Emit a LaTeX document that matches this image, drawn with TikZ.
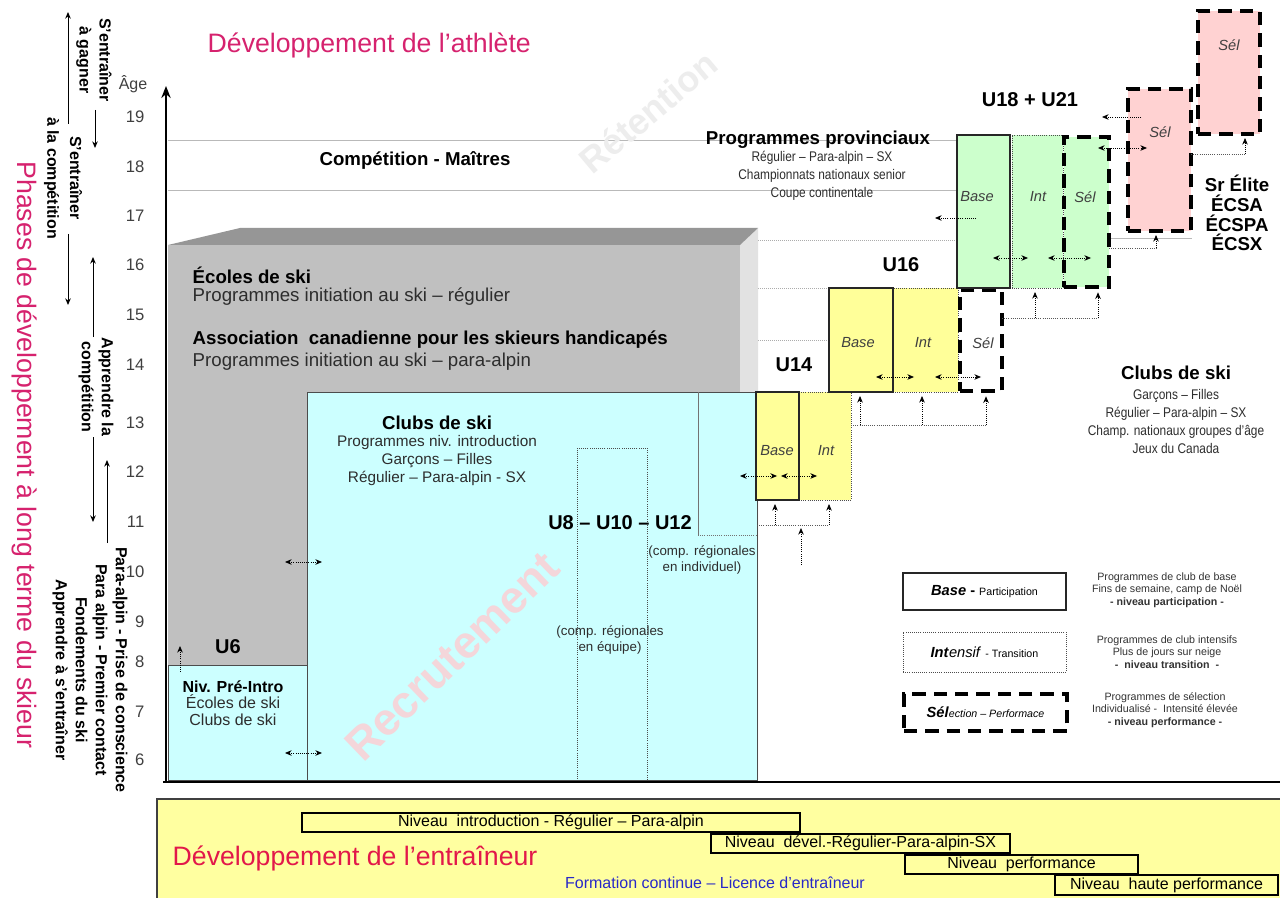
\documentclass[tikz,border=0pt]{standalone}
\usepackage{fontspec}
\setmainfont{Liberation Sans}
\newfontfamily\condfont[FakeStretch=0.85]{Liberation Sans}
\usetikzlibrary{arrows.meta,fit}
\definecolor{mag}{RGB}{214,34,110}
\definecolor{coachred}{RGB}{226,24,74}
\definecolor{blu}{RGB}{40,40,200}
\definecolor{cyanbox}{RGB}{204,255,255}
\definecolor{yelbox}{RGB}{255,255,153}
\definecolor{grnbox}{RGB}{204,255,204}
\definecolor{pinkbox}{RGB}{255,210,210}
\definecolor{grayfront}{RGB}{192,192,192}
\definecolor{graytop}{RGB}{150,150,150}
\definecolor{grayside}{RGB}{226,226,226}
\definecolor{bandyel}{RGB}{255,255,160}
\definecolor{wmpink}{RGB}{244,214,218}
\definecolor{txtgray}{RGB}{45,45,45}
\newcommand\myfs[2]{\fontsize{#1}{#2}\selectfont}
\tikzset{
  >={Stealth[length=5pt,width=4.2pt]},
  ar/.style={->, densely dotted, line width=0.6pt},
  dar/.style={<->, densely dotted, line width=0.6pt},
  conn/.style={densely dotted, line width=0.6pt, black!65},
  phar/.style={->, line width=0.7pt},
  guide/.style={gray!55, line width=0.5pt},
  guided/.style={gray!65, densely dotted, line width=0.5pt},
  solidbox/.style={draw=black!85, line width=0.8pt, inner sep=0pt, outer sep=0pt},
  dotbox/.style={draw=black!70, densely dotted, line width=0.6pt, inner sep=0pt, outer sep=0pt},
  dashbox/.style={draw=black, line width=2.6pt, dash pattern=on 10pt off 6pt, inner sep=0pt, outer sep=0pt},
  cyanfill/.style={fill=cyanbox, draw=black!70, line width=0.7pt, inner sep=0pt, outer sep=0pt},
  lbl/.style={font=\itshape\myfs{11}{13}, text=black!75},
  hd/.style={font=\bfseries\myfs{14}{16}},
  bigu/.style={font=\bfseries\myfs{15}{18}},
  subt/.style={font=\myfs{11.5}{13.5}, align=center, text=txtgray},
  condsub/.style={font=\condfont\myfs{10.5}{13.5}, align=center, text=txtgray},
  agelbl/.style={font=\myfs{12.5}{14}, text=black!75, anchor=east},
  phasetxt/.style={rotate=-90, font=\bfseries\myfs{12}{15}, align=center},
  legt/.style={font=\myfs{8}{9.5}, align=center, text=black!80},
  barbox/.style={draw=black, line width=1.9pt, inner sep=0pt, outer sep=0pt},
  bartxt/.style={font=\myfs{12}{14}},
}
\begin{document}
\begin{tikzpicture}[x=0.75pt,y=-0.75pt]
\path[use as bounding box, fill=white] (0,0) rectangle (1280,898);

% ---------- guide lines
\draw[guide] (168,140) -- (957,140);
\draw[guide] (168,190) -- (957,190);
\draw[guided] (758,240) -- (957,240);
\draw[guided] (758,288) -- (829,288);
\draw[guided] (758,340) -- (829,340);
\draw[guide] (1110,238) -- (1192,238);

% ---------- watermark Retention
\node[rotate=40, text=gray!14, font=\bfseries\myfs{27}{27}] (retention) at (648,112) {Rétention};

% ---------- grey 3D block
\fill[grayside] (740,245) -- (758,228) -- (758,780) -- (740,780) -- cycle;
\fill[graytop] (168,245) -- (240,228) -- (758,228) -- (740,245) -- cycle;
\node[fill=grayfront, inner sep=0pt, outer sep=0pt, fit={(168,245)(740,780)}] (ecoles) {};
\node[anchor=west, hd] (ecolesT) at (188,275) {Écoles de ski};
\node[anchor=west, font=\myfs{14}{16}, text=txtgray] (ecolesS) at (188,297) {Programmes initiation au ski – régulier};
\node[anchor=west, hd] (acsh) at (188,340) {Association\ \ canadienne pour les skieurs handicapés};
\node[anchor=west, font=\myfs{14}{16}, text=txtgray] (acshS) at (188,362) {Programmes initiation au ski – para-alpin};

% ---------- cyan boxes
\node[cyanfill, fit={(307,392)(757,780)}] (clubs) {};
\node[cyanfill, fit={(168,665)(307,780)}] (preintro) {};
\node[inner sep=0pt, outer sep=0pt, fit={(698,392)(757,535)}] (u12col) {};
\draw[black!55, line width=0.6pt] (u12col.north west) -- (u12col.south west);
\draw[black!55, densely dotted, line width=0.6pt] (u12col.south west) -- (u12col.south east);
\node[dotbox, fit={(577,448)(647,780)}] (u810) {};

\node[rotate=44, text=wmpink, font=\bfseries\myfs{34}{34}] (recrut) at (452,656) {Recrutement};

\node[hd] (clubsT) at (437,423) {Clubs de ski};
\node[subt] (clubsS) at (437,461) {Programmes niv. introduction\\Garçons – Filles\\Régulier – Para-alpin - SX};
\node[bigu] (u8) at (620,523) {U8 – U10 – U12};
\node[font=\myfs{10}{11.5}, align=center, text=txtgray] (equipe) at (610,640) {(comp. régionales\\en équipe)};
\node[font=\myfs{10}{11.5}, align=center, text=txtgray] (indiv) at (702,560) {(comp. régionales\\en individuel)};

\node[bigu] (u6) at (228,647) {U6};
\node[font=\myfs{12}{12.5}, align=center, text=txtgray] (preT) at (233,703) {\textbf{\color{black}Niv. Pré-Intro}\\Écoles de ski\\Clubs de ski};

% ---------- U12 yellow
\node[dotbox, fill=yelbox, fit={(799,392)(851,500)}] (u12i) {};
\node[solidbox, fill=yelbox, fit={(756,392)(799,500)}] (u12b) {};
\node[lbl] (u12bT) at (777,451) {Base};
\node[lbl] (u12iT) at (826,451) {Int};

% ---------- U14
\node[dotbox, fill=yelbox, fit={(893,288)(958,392)}] (u14i) {};
\node[solidbox, fill=yelbox, fit={(829,288)(893,392)}] (u14b) {};
\node[dashbox, fill=white, fit={(960,290)(1002,391)}] (u14s) {};
\node[lbl] (u14bT) at (858,343) {Base};
\node[lbl] (u14iT) at (923,343) {Int};
\node[lbl] (u14sT) at (983,343) {Sél};
\node[bigu] (u14) at (794,365) {U14};

% ---------- U16 green
\node[dotbox, fill=grnbox, fit={(1012,135)(1063,288)}] (u16i) {};
\node[solidbox, fill=grnbox, fit={(957,135)(1010,288)}] (u16b) {};
\node[dashbox, fill=grnbox, fit={(1064,137)(1109,287)}] (u16s) {};
\node[lbl] (u16bT) at (977,197) {Base};
\node[lbl] (u16iT) at (1038,197) {Int};
\node[lbl] (u16sT) at (1085,197) {Sél};
\node[bigu] (u16) at (901,265) {U16};

% ---------- pink
\node[dashbox, fill=pinkbox, fit={(1128,89)(1191,231)}] (selmid) {};
\node[dashbox, fill=pinkbox, fit={(1198,11)(1260,134)}] (seltop) {};
\node[lbl] (selmidT) at (1160,132) {Sél};
\node[lbl] (seltopT) at (1229,45) {Sél};
\node[bigu] (u18) at (1030,100) {U18 + U21};

% ---------- upper texts
\node[anchor=west, text=mag, font=\myfs{20}{24}] (title) at (203,45) {Développement de l’athlète};
\node[hd] (masters) at (415,160) {Compétition - Maîtres};
\node[hd] (prov) at (818,140) {Programmes provinciaux};
\node[condsub] (provS) at (822,176) {Régulier – Para-alpin – SX\\Championnats nationaux senior\\Coupe continentale};
\node[font=\bfseries\myfs{14}{14.8}, align=center] (srelite) at (1237,213) {Sr Élite\\ÉCSA\\ÉCSPA\\ÉCSX};
\node[hd] (clubs2T) at (1176,373) {Clubs de ski};
\node[condsub] (clubs2S) at (1176,421) {Garçons – Filles\\Régulier – Para-alpin – SX\\Champ. nationaux groupes d’âge\\Jeux du Canada};

% ---------- arrows between boxes
\coordinate (a1) at (740,476); \coordinate (a2) at (777,476);
\coordinate (a3) at (781,476); \coordinate (a4) at (817,476);
\draw[dar] (a1) -- (a2); \draw[dar] (a3) -- (a4);
\coordinate (b0) at (757,525); \coordinate (b1) at (775,525); \coordinate (b2) at (829,525);
\coordinate (b3) at (801,565); \coordinate (b4) at (801,528);
\draw[conn] (b0) -- (b2);
\draw[ar] (b1) -- ([yshift=-3pt]b1 |- u12b.south);
\draw[ar] (b2) -- ([yshift=-3pt]b2 |- u12i.south);
\draw[ar] (b3) -- (b4);

\coordinate (c1) at (876,377); \coordinate (c2) at (914,377);
\coordinate (c3) at (935,377); \coordinate (c4) at (981,377);
\draw[dar] (c1) -- (c2); \draw[dar] (c3) -- (c4);
\coordinate (d0) at (851,425); \coordinate (d1) at (860,425); \coordinate (d2) at (922,425); \coordinate (d3) at (986,425);
\draw[conn] (d0) -- (d3);
\draw[ar] (d1) -- ([yshift=-3pt]d1 |- u14b.south);
\draw[ar] (d2) -- ([yshift=-3pt]d2 |- u14i.south);
\draw[ar] (d3) -- ([yshift=-4pt]d3 |- u14s.south);

\coordinate (e1) at (993,258); \coordinate (e2) at (1028,258);
\coordinate (e3) at (1048,258); \coordinate (e4) at (1091,258);
\draw[dar] (e1) -- (e2); \draw[dar] (e3) -- (e4);
\coordinate (f0) at (1002,318); \coordinate (f1) at (1035,318); \coordinate (f2) at (1098,318);
\draw[conn] (f0) -- (f2);
\draw[ar] (f1) -- ([yshift=-3pt]f1 |- u16i.south);
\draw[ar] (f2) -- ([yshift=-4pt]f2 |- u16s.south);

\coordinate (g1) at (976,218); \coordinate (g2) at (935,218);
\draw[ar] (g1) -- (g2);
\coordinate (h1) at (1098,148); \coordinate (h2) at (1147,148);
\draw[dar] (h1) -- (h2);
\coordinate (i0) at (1109,248); \coordinate (i1) at (1156,248);
\draw[conn] (i0) -- (i1);
\draw[ar] (i1) -- ([yshift=-3pt]i1 |- selmid.south);
\coordinate (j1) at (1141,117); \coordinate (j2) at (1102,117);
\draw[ar] (j1) -- (j2);
\coordinate (k0) at (1191,154); \coordinate (k1) at (1245,154);
\draw[conn] (k0) -- (k1);
\draw[ar] (k1) -- ([yshift=-3pt]k1 |- seltop.south);

\coordinate (l1) at (180,672); \coordinate (l2) at (180,646);
\draw[ar] (l1) -- (l2);
\coordinate (m1) at (285,562); \coordinate (m2) at (322,562);
\coordinate (m3) at (285,753); \coordinate (m4) at (322,753);
\draw[dar] (m1) -- (m2); \draw[dar] (m3) -- (m4);

% ---------- legend
\node[solidbox, fill=white, fit={(903,573)(1066,610)}] (leg1) {};
\node[font=\myfs{11}{13}] (leg1T) at (leg1) {\textbf{\textit{Base}}\textbf{ -} {\myfs{8}{9}Participation}};
\node[dotbox, fit={(903,632)(1066,672)}] (leg2) {};
\node[font=\myfs{11}{13}] (leg2T) at (leg2) {\textbf{\textit{Int}}\textit{ensif} {\myfs{8}{9}- Transition}};
\node[dashbox, fit={(904,694)(1067,731)}] (leg3) {};
\node[font=\myfs{11}{13}] (leg3T) at (leg3) {\textbf{\textit{Sél}}{\itshape\myfs{8}{9}ection – Performace}};
\node[legt] (leg1R) at (1167,590) {Programmes de club de base\\Fins de semaine, camp de Noël\\\textbf{- niveau participation -}};
\node[legt] (leg2R) at (1167,652) {Programmes de club intensifs\\Plus de jours sur neige\\\textbf{-\ \ niveau transition\ \ -}};
\node[legt] (leg3R) at (1165,710) {Programmes de sélection\\Individualisé -\ \ Intensité élevée\\\textbf{- niveau performance -}};

% ---------- left phase labels
\node[rotate=-90, text=mag, font=\myfs{20}{24}] (phases) at (25,455) {Phases de développement à long terme du skieur};
\node[phasetxt] (gagner) at (94,60) {S’entraîner\\à gagner};
\node[phasetxt, font=\bfseries\myfs{12}{17}] (entcomp) at (63,178) {S’entraîner\\à la compétition};
\node[phasetxt] (appcomp) at (96,387) {Apprendre la\\compétition};
\node[phasetxt] (fond) at (90,670) {Para-alpin - Prise de conscience\\Para alpin - Premier contact\\Fondements du ski\\Apprendre à s’entraîner};
\coordinate (p1) at (68,124); \coordinate (p2) at (68,12);
\coordinate (p3) at (68,234); \coordinate (p4) at (68,305);
\draw[phar] (p1) -- (p2); \draw[phar] (p3) -- (p4);
\coordinate (q1) at (95,110); \coordinate (q2) at (95,148);
\draw[phar] (q1) -- (q2);
\coordinate (r1) at (93,337); \coordinate (r2) at (93,257);
\coordinate (r3) at (93,437); \coordinate (r4) at (93,522);
\draw[phar] (r1) -- (r2); \draw[phar] (r3) -- (r4);
\coordinate (s1) at (107,543); \coordinate (s2) at (107,460);
\draw[phar] (s1) -- (s2);

% ---------- age axis
\node[font=\myfs{12}{14}, text=black!75] (agehd) at (133,84) {Âge};
\foreach \a/\yy in {19/117,18/167,17/216,16/265,15/315,14/365,13/423,12/472,11/522,10/572,9/622,8/662,7/712,6/760}
  \node[agelbl] (age\a) at (149,\yy) {\a};
\coordinate (orig) at (166,782);
\coordinate (ytop) at (166,86);
\coordinate (xstart) at (163,782);
\coordinate (xend) at (1280,782);
\draw[line width=2.2pt, -{Stealth[length=9pt,width=7pt]}] (orig) -- (ytop);
\draw[line width=2.2pt] (xstart) -- (xend);

% ---------- coach band
\node[fill=bandyel, draw=black!75, line width=0.8pt, inner sep=0pt, outer sep=0pt, fit={(157,799)(1300,910)}] (band) {};
\node[barbox, fit={(302,813)(800,832)}] (bar1) {};
\node[bartxt] (bar1T) at (bar1) {Niveau\ \ introduction - Régulier – Para-alpin};
\node[barbox, fit={(711,834)(1010,853)}] (bar2) {};
\node[bartxt] (bar2T) at (bar2) {Niveau\ \ dével.-Régulier-Para-alpin-SX};
\node[barbox, fit={(905,855)(1138,874)}] (bar3) {};
\node[bartxt] (bar3T) at (bar3) {Niveau\ \ performance};
\node[barbox, fit={(1055,875)(1278,895)}] (bar4) {};
\node[bartxt] (bar4T) at (bar4) {Niveau\ \ haute performance};
\node[anchor=west, text=coachred, font=\myfs{20}{24}] (coach) at (168,858) {Développement de l’entraîneur};
\node[text=blu, font=\myfs{12}{14}] (formation) at (715,883) {Formation continue – Licence d’entraîneur};
\end{tikzpicture}
\end{document}
